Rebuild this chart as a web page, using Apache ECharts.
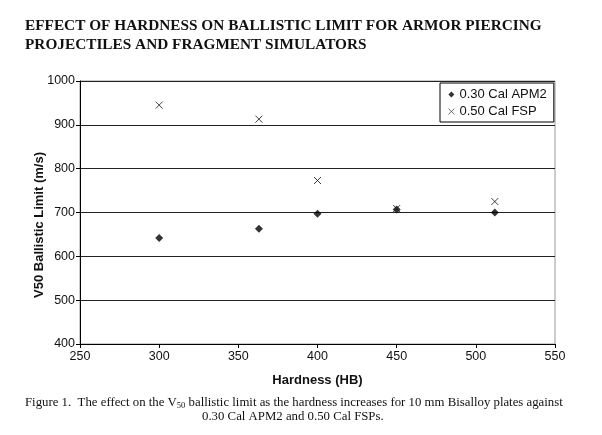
<!DOCTYPE html>
<html><head><meta charset="utf-8">
<script src="https://cdn.jsdelivr.net/npm/echarts@6/dist/echarts.min.js"></script>
<style>html,body{margin:0;padding:0;background:#fff}#c{width:602px;height:435px}</style>
</head><body><div id="c"></div>
<script>
const hardness = [300, 363, 400, 450, 512];
const apm2 = [642, 663, 697, 707, 700];
const fsp = [945, 913, 773, 709, 725];
const seriesNames = ['0.30 Cal APM2', '0.50 Cal FSP'];
const xTicks = [250, 300, 350, 400, 450, 500, 550];
const yTicks = [400, 500, 600, 700, 800, 900, 1000];

const chart = echarts.init(document.getElementById('c'));
const crossPath = 'path://M0,0L10,10M10,0L0,10';
const captionStyle = {fontFamily: 'Liberation Serif', fontSize: 12.8, fill: '#111'};
chart.setOption({
  animation: false,
  backgroundColor: '#fff',
  title: {
    text: 'EFFECT OF HARDNESS ON BALLISTIC LIMIT FOR ARMOR PIERCING\nPROJECTILES AND FRAGMENT SIMULATORS',
    left: 20, top: 12,
    textStyle: {fontFamily: 'Liberation Serif', fontWeight: 'bold', fontSize: 15.3, color: '#111', lineHeight: 19}
  },
  graphic: [
    {
      type: 'text', left: 25, top: 396,
      style: Object.assign({}, captionStyle, {
        text: 'Figure 1.  The effect on the V{sub|50} ballistic limit as the hardness increases for 10 mm Bisalloy plates against',
        rich: {sub: {fontFamily: 'Liberation Serif', fontSize: 8.5, fill: '#111', padding: [7, 0, 0, 0]}}
      })
    },
    {
      type: 'text', left: 202, top: 410,
      style: Object.assign({}, captionStyle, {text: '0.30 Cal APM2 and 0.50 Cal FSPs.'})
    },
    {
      type: 'text', x: 39, y: 225, rotation: Math.PI / 2,
      style: {text: 'V50 Ballistic Limit (m/s)', fontFamily: 'Liberation Sans', fontWeight: 'bold', fontSize: 13,
        fill: '#111', align: 'center', verticalAlign: 'middle'}
    }
  ],
  legend: {
    orient: 'vertical',
    left: 440, top: 83,
    padding: [5, 7, 4, 8],
    itemGap: 4,
    itemWidth: 6, itemHeight: 6,
    borderColor: '#000', borderWidth: 1,
    textStyle: {fontFamily: 'Liberation Sans', fontSize: 13, color: '#111'},
    data: [
      {name: seriesNames[0]},
      {name: seriesNames[1], itemStyle: {color: 'rgba(0,0,0,0)', borderColor: '#222', borderWidth: 0.8}}
    ]
  },
  grid: {left: 80, right: 47, top: 81, bottom: 91, show: true, borderColor: '#999', borderWidth: 1},
  xAxis: {
    type: 'value', min: xTicks[0], max: xTicks[xTicks.length - 1], interval: 50,
    name: 'Hardness (HB)', nameLocation: 'middle', nameGap: 30,
    nameTextStyle: {fontFamily: 'Liberation Sans', fontWeight: 'bold', fontSize: 13, color: '#111'},
    axisLine: {lineStyle: {color: '#000', width: 1}},
    axisTick: {show: true, length: 4, lineStyle: {color: '#000'}},
    axisLabel: {fontFamily: 'Liberation Sans', fontSize: 12.5, color: '#111', margin: 6},
    splitLine: {show: false}
  },
  yAxis: {
    type: 'value', min: yTicks[0], max: yTicks[yTicks.length - 1], interval: 100,
    axisLine: {show: true, lineStyle: {color: '#000', width: 1}},
    axisTick: {show: true, length: 4, lineStyle: {color: '#000'}},
    axisLabel: {fontFamily: 'Liberation Sans', fontSize: 12.5, color: '#111', margin: 5, formatter: v => String(v)},
    splitLine: {show: true, lineStyle: {color: '#222', width: 1}}
  },
  series: [
    {
      name: seriesNames[0], type: 'scatter', symbol: 'diamond', symbolSize: 8,
      itemStyle: {color: '#000'},
      data: hardness.map((h, i) => [h, apm2[i]])
    },
    {
      name: seriesNames[1], type: 'scatter', symbol: crossPath, symbolSize: 7,
      itemStyle: {color: 'rgba(0,0,0,0)', borderColor: '#111', borderWidth: 1},
      data: hardness.map((h, i) => [h, fsp[i]])
    }
  ]
});
</script></body></html>
